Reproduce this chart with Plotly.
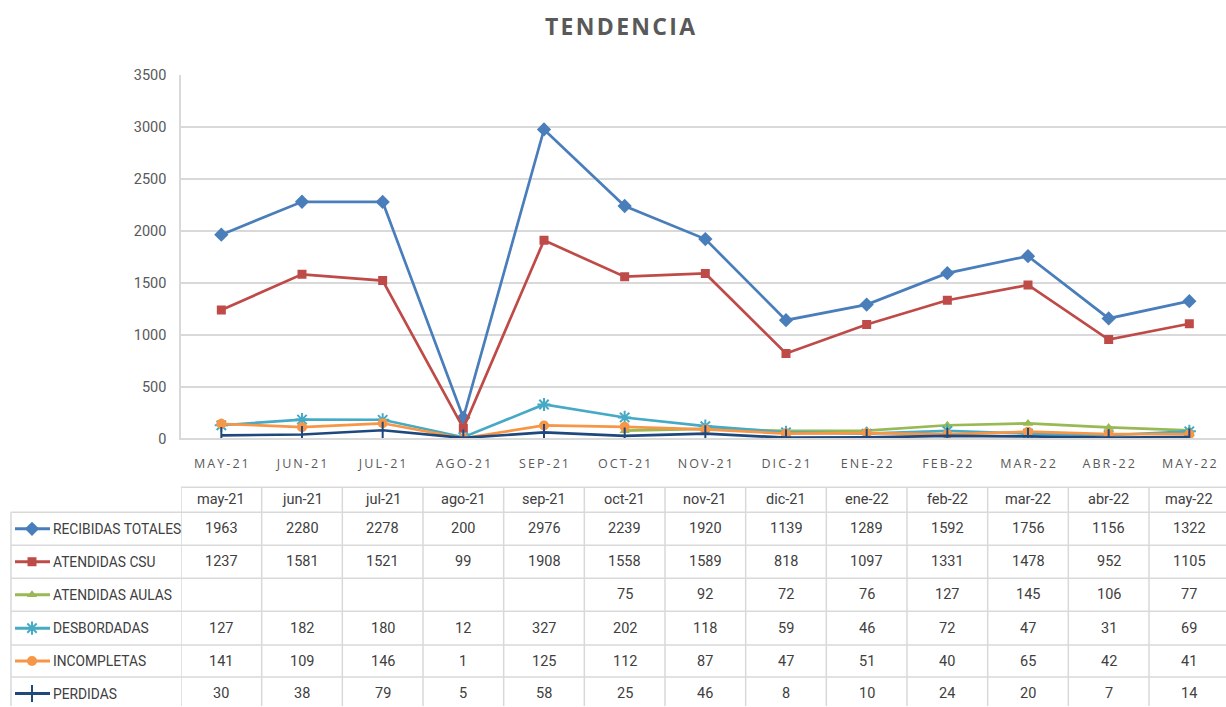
import plotly.graph_objects as go

W, H = 1226, 715
# the viewport shows the page 8px above the figure top and is scaled 707/723 vertically
V_SCALE = 707 / 723
V_OFF = 8 * V_SCALE

months = ["may-21", "jun-21", "jul-21", "ago-21", "sep-21", "oct-21", "nov-21",
          "dic-21", "ene-22", "feb-22", "mar-22", "abr-22", "may-22"]
tick_labels = [m.upper() for m in months]
y_ticks = [0, 500, 1000, 1500, 2000, 2500, 3000, 3500]

recibidas_totales = [1963, 2280, 2278, 200, 2976, 2239, 1920, 1139, 1289, 1592, 1756, 1156, 1322]
atendidas_csu = [1237, 1581, 1521, 99, 1908, 1558, 1589, 818, 1097, 1331, 1478, 952, 1105]
atendidas_aulas = [None, None, None, None, None, 75, 92, 72, 76, 127, 145, 106, 77]
desbordadas = [127, 182, 180, 12, 327, 202, 118, 59, 46, 72, 47, 31, 69]
incompletas = [141, 109, 146, 1, 125, 112, 87, 47, 51, 40, 65, 42, 41]
perdidas = [30, 38, 79, 5, 58, 25, 46, 8, 10, 24, 20, 7, 14]

series = [
    ("RECIBIDAS TOTALES", recibidas_totales, "#4A7EBB", "diamond", 11),
    ("ATENDIDAS CSU", atendidas_csu, "#BE4B48", "square", 9),
    ("ATENDIDAS AULAS", atendidas_aulas, "#98B954", "triangle-up", 9),
    ("DESBORDADAS", desbordadas, "#46AAC5", "asterisk-open", 11),
    ("INCOMPLETAS", incompletas, "#F79646", "circle", 10),
    ("PERDIDAS", perdidas, "#1F497D", "line-ns-open", 12),
]

TXT = "#404040"
AX = "#595959"
GRID = "#D9D9D9"
FONT = "Roboto, Arial, sans-serif"


def spaced(s, sep="\u2009"):
    return sep.join(list(s))


def fig_y(y):
    """viewport pixel row -> figure pixel row"""
    return (y - V_OFF) / V_SCALE


def py(y):
    """viewport pixel row -> paper fraction"""
    return 1 - fig_y(y) / H


def pxx(x):
    return x / W


fig = go.Figure()

for name, vals, color, sym, size in series:
    fig.add_trace(go.Scatter(
        x=months, y=vals, mode="lines+markers", name=name,
        line=dict(color=color, width=2.7),
        marker=dict(symbol=sym, size=size, color=color,
                    line=dict(color=color, width=2 if "open" in sym else 0)),
        connectgaps=False, showlegend=False, hoverinfo="skip",
    ))

# Table geometry (viewport pixel rows)
left_px = 11
plot_left_px = 181
header_top, header_bot = 488, 513
row_lines = [513, 546, 579, 612, 646, 678, 711]
row_centers = [(row_lines[i] + row_lines[i + 1]) / 2 for i in range(6)]

shapes = []
shapes.append(dict(type="line", xref="paper", yref="paper", x0=pxx(plot_left_px), x1=1,
                   y0=py(header_top), y1=py(header_top), line=dict(color=GRID, width=1.5)))
for yl in row_lines[:-1]:
    shapes.append(dict(type="line", xref="paper", yref="paper", x0=pxx(left_px), x1=1,
                       y0=py(yl), y1=py(yl), line=dict(color=GRID, width=1.5)))
shapes.append(dict(type="line", xref="paper", yref="paper", x0=pxx(left_px), x1=pxx(left_px),
                   y0=py(header_bot), y1=0, line=dict(color=GRID, width=1.5)))
for i in range(len(months) + 1):
    shapes.append(dict(type="line", xref="x", yref="paper", x0=i - 0.5, x1=i - 0.5,
                       y0=py(header_top), y1=0, line=dict(color=GRID, width=1.5)))

annotations = []
annotations.append(dict(text="<b>" + spaced("TENDENCIA", "\u200a") + "</b>", xref="paper", yref="paper",
                        x=pxx(620), y=py(26), showarrow=False, xanchor="center", yanchor="middle",
                        font=dict(family="Open Sans, sans-serif", size=23, color=AX)))
for i, m in enumerate(months):
    annotations.append(dict(text=m, xref="x", yref="paper", x=i, y=py((header_top + header_bot) / 2),
                            xanchor="center", yanchor="middle",
                            showarrow=False, font=dict(family=FONT, size=14.5, color=TXT)))
for r, (name, vals, color, sym, size) in enumerate(series):
    yc = row_centers[r]
    annotations.append(dict(text=name, xref="paper", yref="paper", x=pxx(51), y=py(yc),
                            xanchor="left", yanchor="middle",
                            showarrow=False, font=dict(family=FONT, size=13.8, color=TXT)))
    for i, v in enumerate(vals):
        if v is None:
            continue
        annotations.append(dict(text=str(v), xref="x", yref="paper", x=i, y=py(yc),
                                xanchor="center", yanchor="middle",
                                showarrow=False, font=dict(family=FONT, size=14.5, color=TXT)))
    fig.add_trace(go.Scatter(
        x=[15, 50], y=[fig_y(yc)] * 2, xaxis="x2", yaxis="y2", mode="lines",
        line=dict(color=color, width=3), showlegend=False, hoverinfo="skip", cliponaxis=False))
    fig.add_trace(go.Scatter(
        x=[32], y=[fig_y(yc)], xaxis="x2", yaxis="y2", mode="markers",
        marker=dict(symbol=sym, size=size, color=color,
                    line=dict(color=color, width=2 if "open" in sym else 0)),
        showlegend=False, hoverinfo="skip", cliponaxis=False))

col_w = (1149 - plot_left_px) / 12
right_edge = -0.5 + (W - plot_left_px) / col_w

fig.update_layout(
    width=W, height=H,
    margin=dict(l=0, r=0, t=0, b=0),
    paper_bgcolor="white", plot_bgcolor="rgba(0,0,0,0)",
    showlegend=False,
    xaxis=dict(domain=[pxx(plot_left_px), 1], range=[-0.5, right_edge], type="category",
               tickvals=months, ticktext=[spaced(t) for t in tick_labels],
               showgrid=False, showline=True, linecolor=GRID, linewidth=1.5,
               ticks="", ticklabelstandoff=13,
               tickfont=dict(family="Open Sans, sans-serif", size=12.5, color=AX),
               fixedrange=True),
    yaxis=dict(domain=[py(439), py(75)], range=[0, 3500], tickvals=y_ticks,
               showgrid=True, gridcolor=GRID, gridwidth=1.5,
               showline=True, linecolor=GRID, linewidth=1.5, zeroline=False,
               ticks="", ticklabelstandoff=10,
               tickfont=dict(family=FONT, size=14.5, color=AX), fixedrange=True),
    xaxis2=dict(domain=[0, pxx(plot_left_px)], range=[0, plot_left_px], visible=False,
                anchor="y2", fixedrange=True),
    yaxis2=dict(domain=[0, py(header_top)], range=[H, fig_y(header_top)], visible=False,
                anchor="x2", fixedrange=True),
    shapes=shapes,
    annotations=annotations,
)

css_fix = (
    "document.documentElement.style.margin='0';"
    "document.documentElement.style.padding='0';"
    "document.documentElement.style.overflow='hidden';"
    "document.body.style.margin='0';"
    "document.body.style.padding='0';"
    "document.body.style.overflow='hidden';"
)

fig.write_html("out.html", post_script=css_fix, config={"displayModeBar": False})
